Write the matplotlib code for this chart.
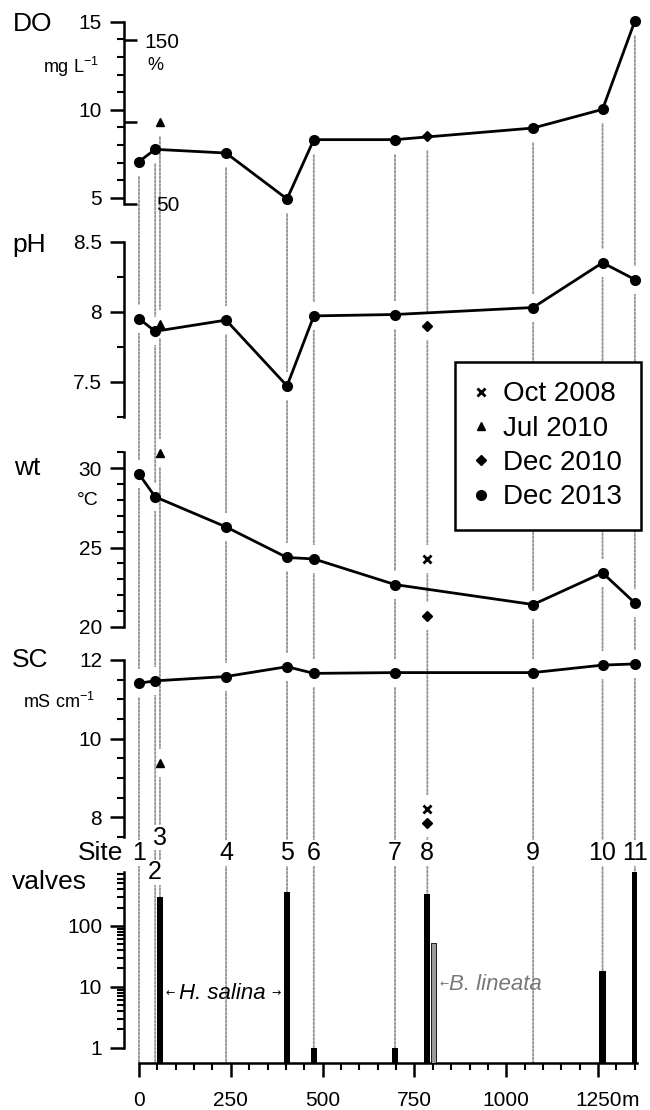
import numpy as np
import matplotlib
matplotlib.use("Agg")
import matplotlib.pyplot as plt
from matplotlib.lines import Line2D
from matplotlib.patches import ConnectionPatch
from matplotlib.ticker import MultipleLocator, FixedLocator, FuncFormatter

plt.rcParams['font.family'] = ['Liberation Sans', 'DejaVu Sans']
plt.rcParams['mathtext.fontset'] = 'custom'
plt.rcParams['mathtext.rm'] = 'Liberation Sans'
plt.rcParams['mathtext.default'] = 'regular'

nan = np.nan

# sites along the transect (distance in m)
site_names = ['1', '2', '3', '4', '5', '6', '7', '8', '9', '10', '11']
dist_m = [0, 44, 57, 237, 403, 476, 697, 785, 1073, 1262, 1350]

# dissolved oxygen, mg/L
do_dec13 = [7.05, 7.75, nan, 7.54, 4.93, 8.3, 8.3, nan, 8.96, 10.02, 15.04]
do_jul10 = [nan, nan, 9.3, nan, nan, nan, nan, nan, nan, nan, nan]
do_dec10 = [nan, nan, nan, nan, nan, nan, nan, 8.52, nan, nan, nan]
do_oct08 = [nan] * 11

# pH
ph_dec13 = [7.95, 7.86, nan, 7.94, 7.47, 7.97, 7.98, nan, 8.03, 8.35, 8.23]
ph_jul10 = [nan, nan, 7.91, nan, nan, nan, nan, nan, nan, nan, nan]
ph_dec10 = [nan, nan, nan, nan, nan, nan, nan, 7.90, nan, nan, nan]
ph_oct08 = [nan] * 11

# water temperature, C
wt_dec13 = [29.64, 28.2, nan, 26.3, 24.37, 24.28, 22.66, nan, 21.4, 23.4, 21.5]
wt_jul10 = [nan, nan, 30.95, nan, nan, nan, nan, nan, nan, nan, nan]
wt_dec10 = [nan, nan, nan, nan, nan, nan, nan, 20.67, nan, nan, nan]
wt_oct08 = [nan, nan, nan, nan, nan, nan, nan, 24.3, nan, nan, nan]

# specific conductance, mS/cm
sc_dec13 = [11.41, 11.47, nan, 11.58, 11.83, 11.66, 11.68, nan, 11.68, 11.87, 11.9]
sc_jul10 = [nan, nan, 9.39, nan, nan, nan, nan, nan, nan, nan, nan]
sc_dec10 = [nan, nan, nan, nan, nan, nan, nan, 7.86, nan, nan, nan]
sc_oct08 = [nan, nan, nan, nan, nan, nan, nan, 8.21, nan, nan, nan]

# valve counts
valves_hsalina = [0, 0, 300, 0, 360, 1, 1, 330, 0, 18, 760]
valves_blineata = [0, 0, 0, 0, 0, 0, 0, 53, 0, 0, 0]

DO_SAT = 9.3  # mg/L at 100 %

W, H = 650, 1110
fig = plt.figure(figsize=(6.5, 11.1), dpi=100)

X0, X1 = 124.3, 636.7
XLIM = (-40, 1355)


def panel(top, bottom):
    return fig.add_axes([X0 / W, 1 - bottom / H, (X1 - X0) / W, (bottom - top) / H])


def style(ax, ylim, major, minor, bounds):
    ax.set_xlim(*XLIM)
    ax.set_ylim(*ylim)
    ax.patch.set_visible(False)
    for s in ['top', 'right', 'bottom']:
        ax.spines[s].set_visible(False)
    ax.spines['left'].set_linewidth(1.8)
    ax.spines['left'].set_bounds(*bounds)
    ax.set_xticks([])
    ax.yaxis.set_major_locator(FixedLocator(major))
    if minor is not None:
        ax.yaxis.set_minor_locator(MultipleLocator(minor))
    ax.yaxis.set_major_formatter(FuncFormatter(lambda v, p: f'{v:g}'))
    ax.tick_params(axis='y', which='major', length=10, width=1.8, labelsize=15, pad=6)
    ax.tick_params(axis='y', which='minor', length=5, width=1.5)


x = np.array(dist_m, float)


def draw_series(ax, dec13, jul10, dec10, oct08):
    # white gaps in the dotted site lines around every point
    for vals in (dec13, jul10, dec10, oct08):
        v = np.array(vals, float)
        ok = ~np.isnan(v)
        if ok.any():
            ax.plot(x[ok], v[ok], ls='none', marker='|', ms=20, mew=3,
                    color='white', zorder=2, clip_on=False)
    v = np.array(dec13, float)
    ok = ~np.isnan(v)
    ax.plot(x[ok], v[ok], '-o', color='k', lw=2, ms=7, zorder=3, clip_on=False)
    v = np.array(jul10, float)
    ax.plot(x, v, ls='none', marker='^', color='k', ms=5.5, zorder=3, clip_on=False)
    v = np.array(dec10, float)
    ax.plot(x, v, ls='none', marker='D', color='k', ms=5, zorder=3, clip_on=False)
    v = np.array(oct08, float)
    ax.plot(x, v, ls='none', marker='x', color='k', ms=6, mew=2, zorder=3, clip_on=False)


# DO
ax_do = panel(21.7, 203.9)
style(ax_do, (DO_SAT / 2, 15), [5, 10, 15], 1, (DO_SAT / 2, 15))
draw_series(ax_do, do_dec13, do_jul10, do_dec10, do_oct08)
sec = ax_do.secondary_yaxis(0, functions=(lambda v: v / DO_SAT * 100,
                                          lambda p: p * DO_SAT / 100))
sec.set_alignment('right')
sec.set_ticks([50, 100, 150], labels=['50', '', '150'])
sec.tick_params(axis='y', length=9.5, width=1.8, labelsize=15, pad=30)
sec.spines['right'].set_visible(False)
for t in sec.get_yticklabels():
    t.set_ha('right')

# pH
ax_ph = panel(241.7, 416.7)
style(ax_ph, (7.25, 8.5), [7.5, 8, 8.5], 0.25, (7.25, 8.5))
draw_series(ax_ph, ph_dec13, ph_jul10, ph_dec10, ph_oct08)

# water temperature
ax_wt = panel(452.5, 626.7)
style(ax_wt, (20, 31), [20, 25, 30], 1, (20, 31))
draw_series(ax_wt, wt_dec13, wt_jul10, wt_dec10, wt_oct08)

# specific conductance
ax_sc = panel(660, 837)
style(ax_sc, (7.5, 12), [8, 10, 12], 0.5, (7.5, 12))
draw_series(ax_sc, sc_dec13, sc_jul10, sc_dec10, sc_oct08)

# valves
ax_v = panel(871.6, 1063.3)
v_top = 780
ax_v.set_yscale('log')
style(ax_v, (0.555, v_top), [1, 10, 100], None, (1, v_top))
minor_log = [k * 10 ** e for e in range(3) for k in range(2, 10) if k * 10 ** e <= v_top]
ax_v.yaxis.set_minor_locator(FixedLocator(minor_log))
ax_v.yaxis.set_minor_formatter(FuncFormatter(lambda v, p: ''))
ax_v.spines['bottom'].set_visible(True)
ax_v.spines['bottom'].set_linewidth(1.8)
ax_v.spines['bottom'].set_bounds(0, XLIM[1])
ax_v.xaxis.set_major_locator(MultipleLocator(250))
ax_v.xaxis.set_minor_locator(MultipleLocator(50))
ax_v.tick_params(axis='x', which='major', length=10, width=1.8, labelsize=15, pad=10)
ax_v.tick_params(axis='x', which='minor', length=5, width=1.5)

hs = np.array(valves_hsalina, float)
ok = hs > 0
ax_v.bar(x[ok], hs[ok], width=17, color='k', zorder=3)
bl = np.array(valves_blineata, float)
ok = bl > 0
ax_v.bar(x[ok] + 17, bl[ok], width=13, color='#9a9a9a', edgecolor='k', lw=0.6, zorder=3)

arrow_font = ['DejaVu Sans']
ax_v.text(84, 7.9, '\u2190', fontsize=8, family=arrow_font, ha='center', va='center')
ax_v.text(109, 7.9, 'H. salina', fontsize=16, style='italic', ha='left', va='center')
ax_v.text(373, 7.9, '\u2192', fontsize=8, family=arrow_font, ha='center', va='center')
ax_v.text(830, 11, '\u2190', fontsize=8, family=arrow_font, ha='center', va='center', color='#777777')
ax_v.text(844, 11, 'B. lineata', fontsize=16, style='italic', ha='left', va='center', color='#777777')

# site labels above the valves panel
label_shift = {'2': -14, '3': 11}
for name, xm in zip(site_names, dist_m):
    ax_v.annotate(name, xy=(xm, 1.097), xycoords=ax_v.get_xaxis_transform(),
                  xytext=(0, label_shift.get(name, 0)), textcoords='offset points',
                  ha='center', va='center', fontsize=18,
                  bbox=dict(facecolor='white', edgecolor='none', pad=0.5), zorder=5)

# dotted site lines from the DO panel down to the distance axis
do_top = np.nanmax(np.vstack([do_dec13, do_jul10, do_dec10]), axis=0)
for xm, top in zip(dist_m, do_top):
    cp = ConnectionPatch(xyA=(xm, top), coordsA=ax_do.transData,
                         xyB=(xm, ax_v.get_ylim()[0]), coordsB=ax_v.transData,
                         color='#999999', lw=1.4, linestyle=(0, (1, 1)), zorder=-1)
    fig.add_artist(cp)


def ftext(px, py, s, **kw):
    fig.text(px / W, 1 - py / H, s, va='center', **kw)


ftext(13, 24, 'DO', fontsize=19)
ftext(71, 67, 'mg L$^{-1}$', fontsize=13, ha='center')
ftext(155, 65, '%', fontsize=13, ha='center')
ftext(12, 245, 'pH', fontsize=19)
ftext(14, 468, 'wt', fontsize=19)
ftext(77, 500, '\u00b0C', fontsize=14)
ftext(12, 660, 'SC', fontsize=19)
ftext(23, 702, 'mS cm$^{-1}$', fontsize=13)
ftext(123, 853, 'Site', fontsize=19, ha='right')
ftext(12, 882, 'valves', fontsize=19)
ftext(622, 1100, 'm', fontsize=15)

handles = [
    Line2D([], [], ls='none', marker='x', color='k', ms=6, mew=2),
    Line2D([], [], ls='none', marker='^', color='k', ms=5.5),
    Line2D([], [], ls='none', marker='D', color='k', ms=5),
    Line2D([], [], ls='none', marker='o', color='k', ms=7),
]
labels = ['Oct 2008', 'Jul 2010', 'Dec 2010', 'Dec 2013']
leg = fig.legend(handles, labels, loc='upper right', bbox_to_anchor=(641 / W, 1 - 362 / H),
                 fontsize=20, frameon=True, fancybox=False, framealpha=1,
                 edgecolor='k', handlelength=0.45, handletextpad=0.55,
                 labelspacing=0.3, borderpad=0.7, borderaxespad=0)
leg.get_frame().set_linewidth(1.8)

fig.savefig('out.png', dpi=100)
